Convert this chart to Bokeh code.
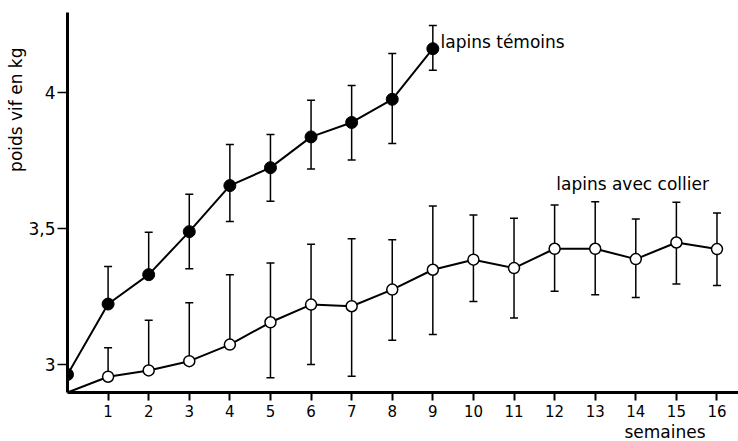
import numpy as np
from bokeh.plotting import figure
from bokeh.models import Label, FixedTicker, Range1d, Title
from bokeh.embed import file_html
from bokeh.resources import INLINE

nan = float("nan")

# lapins témoins (filled)
weeks_temoins = [0, 1, 2, 3, 4, 5, 6, 7, 8, 9]
temoins = [2.963, 3.222, 3.330, 3.488, 3.657, 3.723, 3.836, 3.889, 3.974, 4.160]
temoins_hi = [nan, 3.360, 3.486, 3.625, 3.808, 3.845, 3.971, 4.025, 4.142, 4.245]
temoins_lo = [nan, nan, nan, 3.352, 3.525, 3.600, 3.718, 3.751, 3.812, 4.081]

# lapins avec collier (open)
weeks_collier = list(range(0, 17))
collier = [2.897, 2.955, 2.978, 3.012, 3.073, 3.155, 3.220, 3.214, 3.275, 3.348,
           3.385, 3.354, 3.425, 3.425, 3.387, 3.448, 3.424]
collier_hi = [nan, 3.061, 3.162, 3.227, 3.330, 3.373, 3.442, 3.462, 3.458, 3.582,
              3.549, 3.537, 3.586, 3.598, 3.534, 3.596, 3.556]
collier_lo = [nan, nan, nan, nan, nan, 2.951, 3.000, 2.957, 3.089, 3.110,
              3.231, 3.171, 3.269, 3.256, 3.246, 3.296, 3.290]

x_ticks = list(range(1, 17))
y_ticks = [3, 3.5, 4]
y_tick_labels = {3: "3", 3.5: "3,5", 4: "4"}

FONT = "DejaVu Sans"

p = figure(width=738, height=441, output_backend="svg", toolbar_location=None,
           x_range=Range1d(0, 16.53), y_range=Range1d(2.897, 4.293),
           min_border_left=67, min_border_right=0, min_border_top=12, min_border_bottom=48)
p.outline_line_color = None
p.xgrid.visible = False
p.ygrid.visible = False

for ax in (p.xaxis[0], p.yaxis[0]):
    ax.axis_line_width = 3
    ax.axis_line_color = "black"
    ax.major_tick_line_width = 2
    ax.major_tick_line_color = "black"
    ax.minor_tick_line_color = None
    ax.major_tick_in = 0
    ax.major_label_text_font = FONT
    ax.major_label_text_color = "black"

p.xaxis.ticker = FixedTicker(ticks=x_ticks)
p.xaxis.major_tick_out = 8
p.xaxis.major_label_text_font_size = "15px"
p.xaxis.major_label_standoff = 4

p.yaxis.ticker = FixedTicker(ticks=y_ticks)
p.yaxis.major_label_overrides = y_tick_labels
p.yaxis.major_tick_out = 10
p.yaxis.major_tick_line_width = 1.5
p.yaxis.major_label_text_font_size = "17px"
p.yaxis.major_label_standoff = 2


def draw_errors(xs, ys, hi, lo):
    x0, y0, y1, capx_hi, capy_hi, capx_lo, capy_lo = [], [], [], [], [], [], []
    for x, y, h, l in zip(xs, ys, hi, lo):
        if np.isnan(h):
            continue
        bottom = y if np.isnan(l) else l
        x0.append(x); y0.append(bottom); y1.append(h)
        capx_hi.append(x); capy_hi.append(h)
        if not np.isnan(l):
            capx_lo.append(x); capy_lo.append(l)
    p.segment(x0=x0, y0=y0, x1=x0, y1=y1, line_color="black", line_width=1.5)
    p.scatter(capx_hi, capy_hi, marker="dash", size=8, line_color="black", line_width=1.5)
    p.scatter(capx_lo, capy_lo, marker="dash", size=8, line_color="black", line_width=1.5)


draw_errors(weeks_temoins, temoins, temoins_hi, temoins_lo)
draw_errors(weeks_collier, collier, collier_hi, collier_lo)

p.line(weeks_temoins, temoins, line_color="black", line_width=2)
p.line(weeks_collier, collier, line_color="black", line_width=2)

p.scatter(weeks_temoins, temoins, marker="circle", size=12,
          fill_color="black", line_color="black")
p.scatter(weeks_collier[1:], collier[1:], marker="circle", size=11,
          fill_color="white", line_color="black", line_width=1.5)

label_kw = dict(text_font=FONT, text_color="black", text_baseline="middle")
p.add_layout(Label(x=9.19, y=4.183, text="lapins témoins", text_font_size="17px", **label_kw))
p.add_layout(Label(x=12.04, y=3.663, text="lapins avec collier", text_font_size="17px", **label_kw))

t_x = Title(text="semaines", align="right", offset=33, standoff=0, text_color="black",
            text_font=FONT, text_font_size="17px", text_font_style="normal")
p.add_layout(t_x, "below")
t_y = Title(text="poids vif en kg", align="right", offset=35, standoff=0, text_color="black",
            text_font=FONT, text_font_size="17px", text_font_style="normal")
p.add_layout(t_y, "left")

open("out.html", "w").write(file_html(p, INLINE))
